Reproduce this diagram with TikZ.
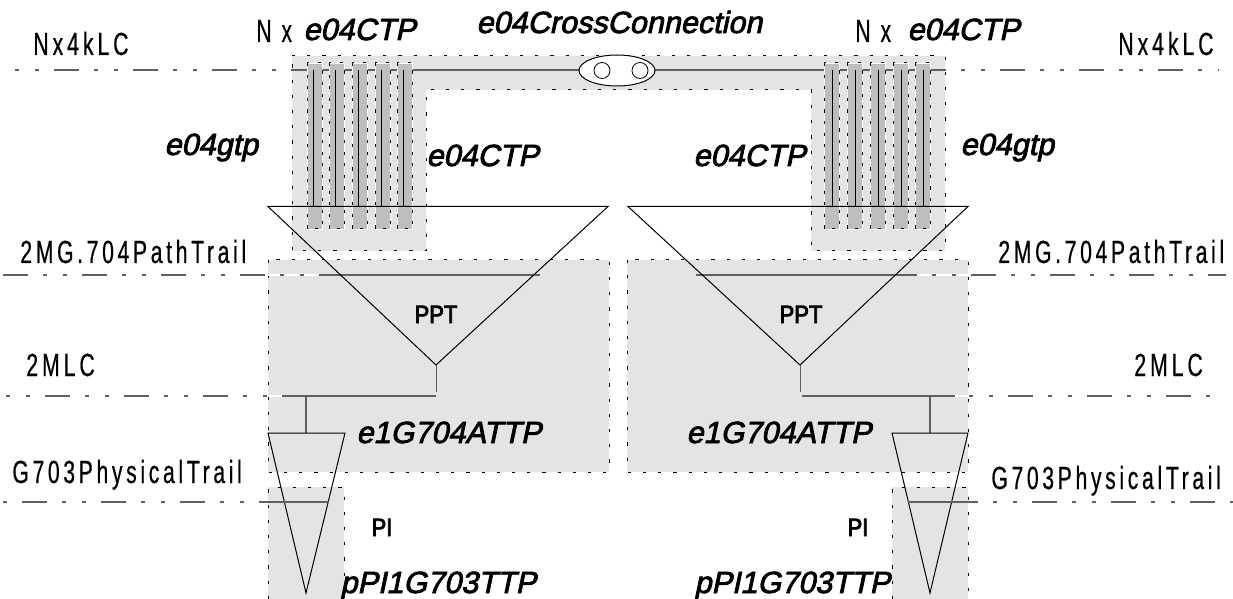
\documentclass[tikz,border=0pt]{standalone}
\usepackage{fontspec}
\usetikzlibrary{shapes.geometric}
\newfontfamily\namefont[FakeBold=2.6,FakeSlant=0.21]{Liberation Sans}
\newfontfamily\tagfont[FakeBold=3,FakeStretch=0.88]{Liberation Sans}
\newfontfamily\layerfont[FakeBold=0.5,FakeStretch=0.66,LetterSpace=12.5]{Liberation Sans}
\newfontfamily\trailfont[FakeBold=0.5,FakeStretch=0.66,LetterSpace=11.5]{Liberation Sans}
\definecolor{zonegray}{HTML}{E4E4E4}
\definecolor{stripgray}{HTML}{BEBEBE}
\definecolor{linegray}{HTML}{606060}
\tikzset{
  zone/.style={fill=zonegray,draw=black,line width=0.5pt,dash pattern=on 1.6pt off 6pt},
  strip/.style={fill=stripgray,draw=white,line width=0.4pt,postaction={draw=black,line width=0.5pt,dash pattern=on 1.6pt off 4.2pt}},
  layer/.style={draw=linegray,line width=0.6pt,dash pattern=on 12.5pt off 7.5pt on 2.2pt off 7.8pt on 2.2pt off 7.3pt},
  wire/.style={draw=black,line width=0.5pt},
  solidwire/.style={draw=linegray,line width=0.8pt},
  gapwire/.style={draw=white,line width=0.8pt},
  objname/.style={inner sep=0pt,anchor=base west,font=\namefont\fontsize{15.3pt}{15.3pt}\selectfont},
  tag/.style={inner sep=0pt,anchor=base,font=\tagfont\fontsize{12.5pt}{12.5pt}\selectfont},
  layerlabel/.style={inner sep=0pt,anchor=base west,font=\layerfont\fontsize{16pt}{16pt}\selectfont},
  traillabel/.style={inner sep=0pt,anchor=base west,font=\trailfont\fontsize{16pt}{16pt}\selectfont},
}
\begin{document}
\begin{tikzpicture}[x=0.5pt,y=-0.5pt]
\useasboundingbox (0,0) rectangle (1233,599);
% grey zones
\draw[zone] (292,56) -- (945,56) -- (945,251) -- (811,251) -- (811,90) -- (426,90) -- (426,251) -- (292,251) -- cycle;
\draw[zone] (268,260) rectangle (609,472);
\draw[zone] (627,260) rectangle (968,472);
\draw[zone] (268,599) -- (268,487) -- (344,487) -- (344,599);
\draw[zone] (892,599) -- (892,487) -- (968,487) -- (968,599);
% layer lines
\draw[gapwire] (268,275) -- (320,275);
\draw[gapwire] (916,275) -- (968,275);
\draw[gapwire] (268,396) -- (282,396);
\draw[gapwire] (955,396) -- (968,396);
\draw[layer] (-25,70) -- (292,70);
\draw[layer] (921,70) -- (1219,70);
\draw[layer] (3,275) -- (320,275);
\draw[layer] (892,275) -- (1226,275);
\draw[layer] (-34,396) -- (282,396);
\draw[layer] (929,396) -- (1211,396);
\draw[layer] (-57,502) -- (259,502);
\draw[layer] (953,502) -- (1233,502);
% strips
\draw[solidwire] (292,70) -- (945,70);
\foreach \x in {307,329,352,375,397}{
  \draw[strip] (\x,63) rectangle ++(15,166);
  \draw[wire] (\x+6,70) -- (\x+6,206);
}
\foreach \x in {824,847,870,893,915}{
  \draw[strip] (\x,63) rectangle ++(15,166);
  \draw[wire] (\x+8,70) -- (\x+8,206);
}
% cross connection
\node[draw=black,fill=white,ellipse,minimum width=38pt,minimum height=15.5pt,inner sep=0pt,line width=0.5pt] (xconn) at (617,70.5) {};
\node[draw=black,fill=white,circle,minimum size=8pt,inner sep=0pt,line width=0.4pt] (xportl) at (602,70.5) {};
\node[draw=black,fill=white,circle,minimum size=8pt,inner sep=0pt,line width=0.4pt] (xportr) at (640,70.5) {};
% path trail
\draw[solidwire] (320,275) -- (540,275);
\draw[solidwire] (696,275) -- (916,275);
\coordinate (ppt1) at (268,206.5);
\coordinate (ppt2) at (608,206.5);
\coordinate (ppt3) at (436,365);
\coordinate (ppt4) at (628,206.5);
\coordinate (ppt5) at (968,206.5);
\coordinate (ppt6) at (800,365);
\draw[wire] (ppt1) -- (ppt2) -- (ppt3) -- cycle;
\draw[wire] (ppt4) -- (ppt5) -- (ppt6) -- cycle;
% stems
\coordinate (stem1) at (436,392);
\coordinate (stem2) at (800,392);
\draw[solidwire,line width=0.5pt] (ppt3) -- (stem1);
\draw[solidwire,line width=0.5pt] (ppt6) -- (stem2);
\coordinate (bus1) at (282,396);
\coordinate (bus2) at (436,396);
\coordinate (bus3) at (802,396);
\coordinate (bus4) at (955,396);
\draw[solidwire] (bus1) -- (bus2);
\draw[solidwire] (bus3) -- (bus4);
% physical trail
\coordinate (pi1) at (268,433);
\coordinate (pi2) at (345,433);
\coordinate (pi3) at (306,593);
\coordinate (pi4) at (892,433);
\coordinate (pi5) at (968,433);
\coordinate (pi6) at (930,593);
\draw[solidwire] (306,396) -- (306,433);
\draw[solidwire] (930,396) -- (930,433);
\draw[wire] (pi1) -- (pi2) -- (pi3) -- cycle;
\draw[wire] (pi4) -- (pi5) -- (pi6) -- cycle;
\draw[solidwire,line width=0.6pt] (259,502) -- (329,502);
\draw[solidwire,line width=0.6pt] (908,502) -- (977,502);
% names
\node[objname] (ctpa) at (303,40) {e04CTP};
\node[objname] (xname) at (476,33) {e04CrossConnection};
\node[objname] (ctpb) at (907,40) {e04CTP};
\node[objname] (gtpa) at (164,155) {e04gtp};
\node[objname] (ctpc) at (426,166) {e04CTP};
\node[objname] (ctpd) at (693,166) {e04CTP};
\node[objname] (gtpb) at (960,155) {e04gtp};
\node[objname] (ttpa) at (356,443) {e1G704ATTP};
\node[objname] (ttpb) at (686,443) {e1G704ATTP};
\node[objname] (ppia) at (340,593) {pPI1G703TTP};
\node[objname] (ppib) at (694,593) {pPI1G703TTP};
\node[tag] (ppta) at (436,323) {PPT};
\node[tag] (pptb) at (801,323) {PPT};
\node[tag] (pia) at (382,536) {PI};
\node[tag] (pib) at (858,536) {PI};
% layer names
\node[layerlabel] (nxa) at (256,42) {N x};
\node[layerlabel] (nxb) at (855,42) {N x};
\node[layerlabel] (lca) at (33,55) {Nx4kLC};
\node[layerlabel] (lcb) at (1118,55) {Nx4kLC};
\node[traillabel] (mga) at (20,263) {2MG.704PathTrail};
\node[traillabel] (mgb) at (998,263) {2MG.704PathTrail};
\node[layerlabel] (mlca) at (26,376) {2MLC};
\node[layerlabel] (mlcb) at (1134,376) {2MLC};
\node[traillabel] (pha) at (12,483) {G703PhysicalTrail};
\node[traillabel] (phb) at (991,489) {G703PhysicalTrail};
\end{tikzpicture}
\end{document}
